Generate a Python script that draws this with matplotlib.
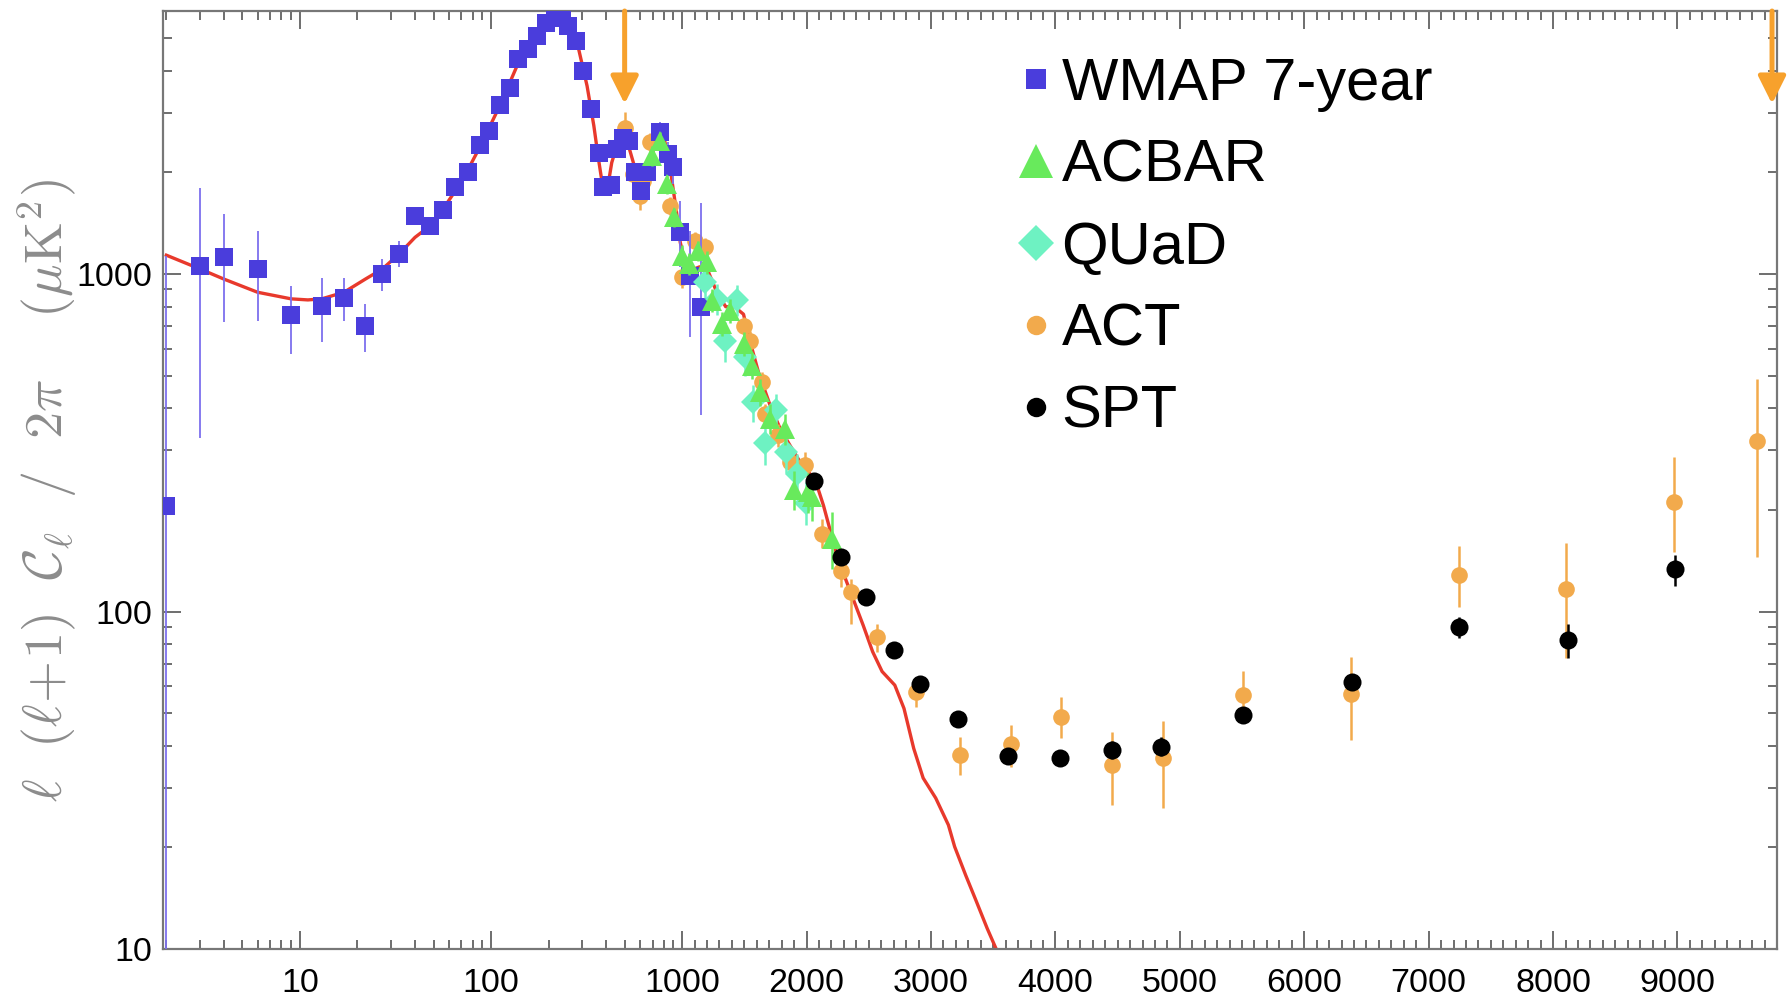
import numpy as np
import matplotlib
matplotlib.use('Agg')
import matplotlib.pyplot as plt
from matplotlib.lines import Line2D
from matplotlib.ticker import FixedLocator, FixedFormatter, NullFormatter

plt.rcParams['font.family'] = ['Liberation Sans', 'DejaVu Sans']
plt.rcParams['mathtext.fontset'] = 'cm'

# ─── Band powers: ell, D_ell = l(l+1)C_l/2pi [uK^2], error bar ends ─────────
wmap_ell = [2, 3, 4, 6, 9, 13, 17, 22, 27, 33, 40, 48, 56, 65, 76, 88, 98,
            111, 125, 139, 156, 173, 194, 216, 234, 254, 279, 304, 332, 365,
            387, 423, 455, 489, 524, 568, 608, 653, 767, 839, 896, 970, 1064,
            1150]
wmap_dl = [205, 1057, 1122, 1035, 754, 802, 849, 700, 1000, 1146, 1490, 1390,
           1549, 1805, 2000, 2412, 2655, 3162, 3565, 4325, 4636, 5070, 5560,
           5810, 5740, 5430, 4900, 3990, 3076, 2291, 1805, 1833, 2344, 2535,
           2480, 2000, 1764, 2010, 2636, 2266, 2070, 1328, 989, 800]
wmap_lo = [1, 327, 721, 728, 580, 628, 728, 587, 893, 1048, 1440, 1345,
           1500, 1750, 1945, 2350, 2590, 3090, 3490, 4240, 4550, 4980, 5470,
           5720, 5650, 5340, 4810, 3910, 3000, 2230, 1750, 1770, 2270, 2450,
           2390, 1910, 1670, 1880, 2450, 2080, 1850, 1050, 650, 383]
wmap_hi = [1130, 1795, 1507, 1343, 923, 973, 973, 815, 1107, 1256, 1540, 1435,
           1600, 1860, 2055, 2475, 2720, 3235, 3640, 4410, 4720, 5160, 5650,
           5900, 5830, 5520, 4990, 4070, 3150, 2350, 1860, 1900, 2420, 2620,
           2570, 2090, 1860, 2140, 2830, 2460, 2300, 1648, 1340, 1622]

acbar_ell = [694, 767, 832, 901, 996, 1051, 1131, 1198, 1239, 1319, 1386,
             1493, 1560, 1627, 1707, 1826, 1895, 2014, 2043, 2204]
acbar_dl = [2240, 2478, 1845, 1472, 1132, 1071, 1172, 1084, 834, 711, 778,
            621, 535, 447, 373, 348, 229, 226, 218, 164]
acbar_lo = [2090, 2330, 1730, 1380, 1050, 990, 1090, 1000, 770, 655, 715,
            570, 490, 405, 335, 312, 200, 196, 186, 134]
acbar_hi = [2390, 2630, 1960, 1570, 1215, 1155, 1255, 1170, 900, 770, 842,
            675, 582, 490, 412, 385, 260, 258, 252, 197]

quad_ell = [1185, 1279, 1346, 1440, 1505, 1573, 1666, 1755, 1834, 1919, 1998]
quad_dl = [944, 844, 635, 840, 567, 417, 316, 396, 297, 256, 210]
quad_lo = [850, 755, 548, 750, 500, 365, 272, 350, 258, 220, 180]
quad_hi = [1040, 935, 720, 930, 635, 470, 360, 442, 336, 292, 242]

act_ell = [502, 556, 603, 626, 679, 865, 997, 1105, 1185, 1493, 1547, 1641,
           1667, 1774, 1868, 1990, 2125, 2277, 2354, 2566, 2876, 3237, 3642,
           4042, 4457, 4863, 5511, 6373, 7245, 8106, 8969, 9642]
act_dl = [2710, 1977, 1706, 1888, 2455, 1592, 977, 1256, 1200, 703, 635, 479,
          385, 333, 277, 272, 170, 132, 114, 84, 57.9, 37.6, 40.4, 48.8, 35.1,
          36.7, 56.6, 56.8, 128.6, 116.4, 211.3, 321]
act_lo = [2480, 1850, 1548, 1770, 2300, 1500, 910, 1180, 1125, 660, 596, 448,
          358, 308, 255, 250, 154, 118, 92, 76, 52, 32.8, 34.7, 42.1, 26.8,
          26.2, 47.7, 41.6, 103.3, 72.6, 150, 145]
act_hi = [3020, 2110, 1870, 2010, 2610, 1690, 1045, 1335, 1280, 748, 676, 512,
          413, 360, 300, 296, 188, 148, 125, 92, 61.6, 42.6, 46.0, 55.9, 44.0,
          47.3, 66.6, 73.5, 156.5, 160, 286.6, 489]

spt_ell = [2060, 2277, 2481, 2699, 2912, 3215, 3620, 4037, 4452, 4847, 5511,
           6383, 7245, 8117, 8984]
spt_dl = [244, 145, 110.5, 76.8, 60.8, 48.0, 37.2, 36.9, 38.9, 39.8, 49.5,
          61.7, 89.7, 82.6, 133.4]
spt_lo = [236, 140, 106.5, 73.8, 58.3, 46.0, 35.4, 35.0, 36.6, 37.2, 47.0,
          58.4, 83.2, 72.9, 119]
spt_hi = [252, 150, 114.5, 79.8, 63.3, 50.0, 39.0, 38.8, 41.2, 42.4, 52.0,
          65.0, 96.5, 92.1, 147.5]

# best-fit LCDM spectrum
model_ell = [2, 3, 4, 6, 9, 11, 13, 17, 22, 27, 33, 40, 48, 56, 65, 76, 88,
             111, 139, 173, 206, 229, 254, 285, 318, 345, 365, 387, 404, 428,
             455, 489, 524, 568, 600, 640, 680, 720, 770, 810, 850, 883, 937,
             977, 1024, 1080, 1140, 1212, 1280, 1350, 1420, 1493, 1547, 1613,
             1707, 1788, 1868, 1949, 2070, 2136, 2252, 2354, 2455, 2531, 2607,
             2709, 2783, 2861, 2937, 3038, 3140, 3190, 3280, 3359, 3452, 3524,
             3560]
model_dl = [1137, 1035, 966, 883, 844, 838, 844, 883, 966, 1035, 1146, 1284,
            1390, 1556, 1764, 2046, 2397, 3150, 4227, 5129, 5675, 5740, 5500,
            4732, 3607, 2749, 2188, 1764, 1753, 2138, 2397, 2507, 2397, 2046,
            1850, 1880, 2150, 2420, 2560, 2480, 2200, 1900, 1507, 1241, 1084,
            1030, 1050, 1012, 880, 800, 800, 760, 628, 512, 408, 348, 310, 277,
            245, 206, 143, 114, 91, 76, 66.4, 60.5, 51.6, 39.3, 32.1, 28.0,
            23.3, 20.1, 16.5, 14.0, 11.5, 10.0, 9.0]

# multipoles flagged with arrows along the top edge
arrow_ell = [500, 9760]

legend_labels = ['WMAP 7-year', 'ACBAR', 'QUaD', 'ACT', 'SPT']

x_major = [10, 100, 1000, 2000, 3000, 4000, 5000, 6000, 7000, 8000, 9000]
y_major = [10, 100, 1000]

# ─── Colours ────────────────────────────────────────────────────────────────
C_WMAP = '#4a3ddc'
C_WMAP_ERR = '#7d70ee'
C_ACBAR = '#68ea5c'
C_QUAD = '#6ef2c2'
C_ACT = '#f2aa4c'
C_SPT = '#000000'
C_MODEL = '#e8392c'
C_ARROW = '#f7a12c'

# ─── Hybrid ell axis: logarithmic below 1000, linear above ─────────────────
LIN_K = 0.000651   # log-decades per unit ell in the linear part


def fwd(x):
    x = np.asarray(x, dtype=float)
    lg = np.log10(np.clip(x, 1e-6, None))
    return np.where(x <= 1000, lg, 3.0 + (x - 1000.0) * LIN_K)


def inv(y):
    y = np.asarray(y, dtype=float)
    return np.where(y <= 3, 10 ** np.minimum(y, 3.0), 1000.0 + (y - 3.0) / LIN_K)


def yerr(dl, lo, hi):
    dl = np.asarray(dl, float)
    return [dl - np.asarray(lo, float), np.asarray(hi, float) - dl]


fig = plt.figure(figsize=(17.89, 10.02), dpi=100)
ax = fig.add_axes([0.0911, 0.0529, 0.9022, 0.9361])
ax.set_xscale('function', functions=(fwd, inv))
ax.set_yscale('log')
ax.set_xlim(1.92, 9800)
ax.set_ylim(10, 6015)

ax.plot(model_ell, model_dl, color=C_MODEL, lw=2.4, zorder=2)

ax.errorbar(act_ell, act_dl, yerr=yerr(act_dl, act_lo, act_hi), fmt='o',
            ms=12, color=C_ACT, ecolor=C_ACT, elinewidth=1.8, capsize=3,
            capthick=1.5, mew=0, zorder=3)
ax.errorbar(wmap_ell, wmap_dl, yerr=yerr(wmap_dl, wmap_lo, wmap_hi), fmt='s',
            ms=12.5, color=C_WMAP, ecolor=C_WMAP_ERR, elinewidth=1.3,
            capsize=3, capthick=1.3, mew=0, zorder=4)
ax.errorbar(quad_ell, quad_dl, yerr=yerr(quad_dl, quad_lo, quad_hi), fmt='D',
            ms=12.5, color=C_QUAD, ecolor=C_QUAD, elinewidth=1.8, capsize=3,
            capthick=1.5, mew=0, zorder=5)
ax.errorbar(acbar_ell, acbar_dl, yerr=yerr(acbar_dl, acbar_lo, acbar_hi),
            fmt='^', ms=15, color=C_ACBAR, ecolor=C_ACBAR, elinewidth=1.8,
            capsize=3, capthick=1.5, mew=0, zorder=6)
ax.errorbar(spt_ell, spt_dl, yerr=yerr(spt_dl, spt_lo, spt_hi), fmt='o',
            ms=13, color=C_SPT, ecolor=C_SPT, elinewidth=1.8, capsize=2.5,
            capthick=1.5, mew=0, zorder=7)

for l in arrow_ell:
    ax.annotate('', xy=(l, 0.901), xycoords=('data', 'axes fraction'),
                xytext=(l, 1.0), textcoords=('data', 'axes fraction'),
                arrowprops=dict(arrowstyle='-|>', color=C_ARROW, lw=3.6,
                                mutation_scale=42, shrinkA=0, shrinkB=0),
                annotation_clip=False, zorder=8)

# ─── Ticks ──────────────────────────────────────────────────────────────────
x_minor = ([v * d for d in (1, 10, 100) for v in range(2, 10)
            if v * d not in x_major]
           + [v for v in range(1100, 9800, 100) if v % 1000 != 0])
ax.xaxis.set_major_locator(FixedLocator(x_major))
ax.xaxis.set_major_formatter(FixedFormatter([str(v) for v in x_major]))
ax.xaxis.set_minor_locator(FixedLocator(x_minor))
ax.xaxis.set_minor_formatter(NullFormatter())
ax.yaxis.set_major_locator(FixedLocator(y_major))
ax.yaxis.set_major_formatter(FixedFormatter([str(v) for v in y_major]))

ax.tick_params(which='both', direction='in', top=True, right=True,
               color='#555555', width=1.2)
ax.tick_params(which='major', length=13, labelsize=24.5, labelcolor='black')
ax.tick_params(which='minor', length=6.5)
ax.tick_params(axis='x', which='major', pad=14)
ax.tick_params(axis='y', which='major', pad=8)
for sp in ax.spines.values():
    sp.set_color('#777777')
    sp.set_linewidth(1.6)

ax.set_ylabel(r'$\ell\ \ (\ell\!+\!1)\ \ \mathcal{C}_\ell\ \ /\ \ 2\pi'
              r'\ \ \ \ (\mu\mathrm{K}^2)$', fontsize=39, color='#8c8c8c')
ax.yaxis.label.set_verticalalignment('center')
ax.yaxis.set_label_coords(-0.072, 0.489)

# ─── Legend ─────────────────────────────────────────────────────────────────
handles = [
    Line2D([], [], ls='none', marker='s', ms=14, color=C_WMAP, mew=0),
    Line2D([], [], ls='none', marker='^', ms=24, color=C_ACBAR, mew=0),
    Line2D([], [], ls='none', marker='D', ms=18, color=C_QUAD, mew=0),
    Line2D([], [], ls='none', marker='o', ms=14, color=C_ACT, mew=0),
    Line2D([], [], ls='none', marker='o', ms=14, color=C_SPT, mew=0),
]
fig.legend(handles, legend_labels, loc='upper left',
           bbox_to_anchor=(1018 / 1789, 1 - 57 / 1002), frameon=False,
           fontsize=43, handlelength=0.6, handletextpad=0.13,
           labelspacing=0.45, borderpad=0, borderaxespad=0)

fig.savefig('out.png', dpi=100)
